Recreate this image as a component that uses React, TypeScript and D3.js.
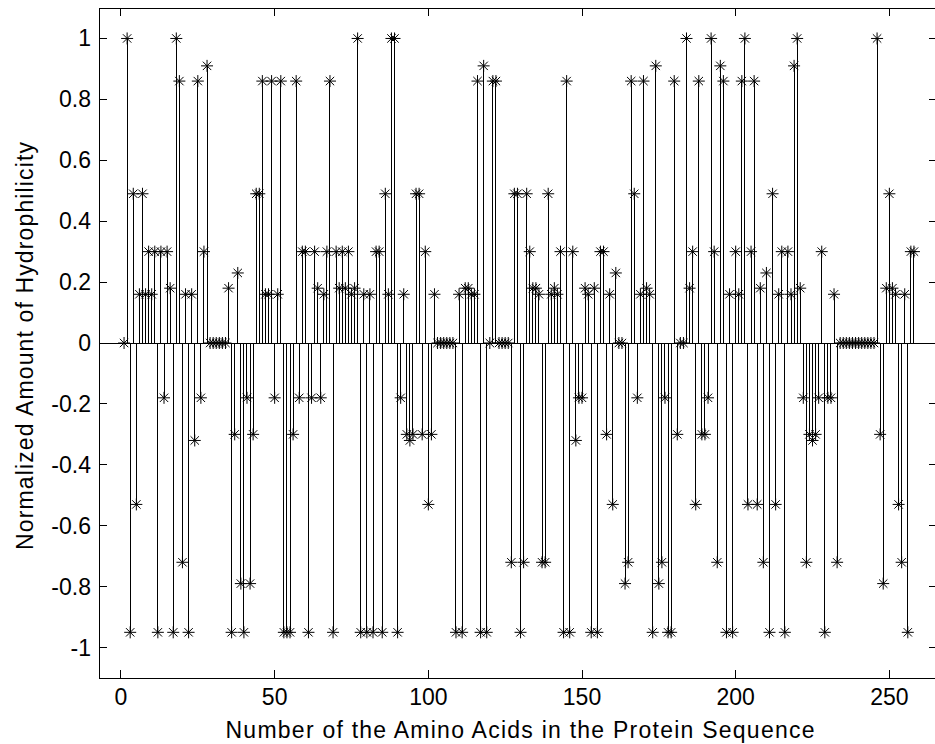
import React, { useEffect, useRef } from "react";
import * as d3 from "d3";

// normalized hydrophilicity of each residue, position = index + 1
const hydrophilicity = [
  0, 1, -0.95, 0.49, -0.53, 0.16, 0.49, 0.16, 0.3, 0.16,
  0.3, -0.95, 0.3, -0.18, 0.3, 0.18, -0.95, 1, 0.86, -0.72,
  0.16, -0.95, 0.16, -0.32, 0.86, -0.18, 0.3, 0.91, 0, 0,
  0, 0, 0, 0, 0.18, -0.95, -0.3, 0.23, -0.79, -0.95,
  -0.18, -0.79, -0.3, 0.49, 0.49, 0.86, 0.16, 0.16, 0.86, -0.18,
  0.16, 0.86, -0.95, -0.95, -0.95, -0.3, 0.86, -0.18, 0.3, 0.3,
  -0.95, -0.18, 0.3, 0.18, -0.18, 0.16, 0.3, 0.86, -0.95, 0.3,
  0.18, 0.3, 0.18, 0.3, 0.16, 0.18, 1, -0.95, 0.16, -0.95,
  0.16, -0.95, 0.3, 0.3, -0.95, 0.49, 0.16, 1, 1, -0.95,
  -0.18, 0.16, -0.3, -0.32, -0.3, 0.49, 0.49, -0.3, 0.3, -0.53,
  -0.3, 0.16, 0, 0, 0, 0, 0, 0, -0.95, 0.16,
  -0.95, 0.18, 0.18, 0.16, 0.16, 0.86, -0.95, 0.91, -0.95, 0,
  0.86, 0.86, 0, 0, 0, 0, -0.72, 0.49, 0.49, -0.95,
  -0.72, 0.49, 0.3, 0.18, 0.18, 0.16, -0.72, -0.72, 0.49, 0.16,
  0.18, 0.16, 0.3, -0.95, 0.86, -0.95, 0.3, -0.32, -0.18, -0.18,
  0.18, 0.16, -0.95, 0.18, -0.95, 0.3, 0.3, -0.3, 0.16, -0.53,
  0.23, 0, 0, -0.79, -0.72, 0.86, 0.49, -0.18, 0.16, 0.86,
  0.18, 0.16, -0.95, 0.91, -0.79, -0.72, -0.18, -0.95, -0.95, 0.86,
  -0.3, 0, 0, 1, 0.18, 0.3, -0.53, 0.86, -0.3, -0.3,
  -0.18, 1, 0.3, -0.72, 0.91, 0.86, -0.95, 0.16, -0.95, 0.3,
  0.16, 0.86, 1, -0.53, 0.3, 0.86, -0.53, 0.18, -0.72, 0.23,
  -0.95, 0.49, -0.53, 0.16, 0.3, -0.95, 0.3, 0.16, 0.91, 1,
  0.18, -0.18, -0.72, -0.3, -0.32, -0.3, -0.18, 0.3, -0.95, -0.18,
  -0.18, 0.16, -0.72, 0, 0, 0, 0, 0, 0, 0,
  0, 0, 0, 0, 0, 1, -0.3, -0.79, 0.18, 0.49,
  0.18, 0.16, -0.53, -0.72, 0.16, -0.95, 0.3, 0.3,
];

const xTicks = [0, 50, 100, 150, 200, 250];
const yTicks = [-1, -0.8, -0.6, -0.4, -0.2, 0, 0.2, 0.4, 0.6, 0.8, 1];
const xTitle = "Number of the Amino Acids in the Protein Sequence";
const yTitle = "Normalized Amount of Hydrophilicity";

export default function App() {
  const svgRef = useRef<SVGSVGElement>(null);

  useEffect(() => {
    const svg = d3.select(svgRef.current);
    svg.selectAll("*").remove();

    const left = 99, right = 937, top = 8, bottom = 678;
    const font = "'Liberation Sans', Arial, sans-serif";
    const fs = 23;

    const x = d3.scaleLinear().domain([-7.15, 265.5]).range([left, right]);
    const y = d3.scaleLinear().domain([-1.1, 1.1]).range([bottom, top]);

    svg.append("rect")
      .attr("width", 935).attr("height", 744).attr("fill", "white");

    // stems
    const plot = svg.append("g");
    plot.append("line")
      .attr("x1", left).attr("x2", right)
      .attr("y1", y(0)).attr("y2", y(0))
      .attr("stroke", "black").attr("shape-rendering", "crispEdges");

    plot.selectAll(".stem")
      .data(hydrophilicity)
      .join("line")
      .attr("class", "stem")
      .attr("x1", (d, i) => x(i + 1)).attr("x2", (d, i) => x(i + 1))
      .attr("y1", y(0)).attr("y2", d => y(d))
      .attr("stroke", "black")
      .attr("shape-rendering", "crispEdges");

    // asterisk markers (plus + cross)
    const r = 6, q = 4.2;
    const star = `M${-r},0H${r}M0,${-r}V${r}M${-q},${-q}L${q},${q}M${-q},${q}L${q},${-q}`;
    plot.selectAll(".mark")
      .data(hydrophilicity)
      .join("path")
      .attr("class", "mark")
      .attr("transform", (d, i) => `translate(${x(i + 1)},${y(d)})`)
      .attr("d", star)
      .attr("fill", "none")
      .attr("stroke", "black")
      .attr("stroke-width", 1);

    // box + inward ticks
    svg.append("rect")
      .attr("x", left).attr("y", top)
      .attr("width", right - left).attr("height", bottom - top)
      .attr("fill", "none").attr("stroke", "black")
      .attr("shape-rendering", "crispEdges");

    const tl = 8;
    const ax = svg.append("g").attr("stroke", "black").attr("shape-rendering", "crispEdges");
    xTicks.forEach(t => {
      ax.append("line").attr("x1", x(t)).attr("x2", x(t)).attr("y1", bottom).attr("y2", bottom - tl);
      ax.append("line").attr("x1", x(t)).attr("x2", x(t)).attr("y1", top).attr("y2", top + tl);
    });
    yTicks.forEach(t => {
      ax.append("line").attr("x1", left).attr("x2", left + tl).attr("y1", y(t)).attr("y2", y(t));
      ax.append("line").attr("x1", right).attr("x2", right - tl).attr("y1", y(t)).attr("y2", y(t));
    });

    const fmt = (v: number) => (Math.abs(v) < 1e-9 ? "0" : String(Math.round(v * 10) / 10));

    svg.append("g").selectAll("text")
      .data(xTicks)
      .join("text")
      .attr("x", d => x(d)).attr("y", 705)
      .attr("text-anchor", "middle")
      .attr("font-family", font).attr("font-size", fs)
      .text(d => fmt(d));

    svg.append("g").selectAll("text")
      .data(yTicks)
      .join("text")
      .attr("x", 91).attr("y", d => y(d) + 8)
      .attr("text-anchor", "end")
      .attr("font-family", font).attr("font-size", fs)
      .text(d => fmt(d));

    svg.append("text")
      .attr("x", 520).attr("y", 738)
      .attr("text-anchor", "middle")
      .attr("textLength", 589).attr("lengthAdjust", "spacing")
      .attr("font-family", font).attr("font-size", fs)
      .text(xTitle);

    svg.append("text")
      .attr("transform", "translate(33,346) rotate(-90)")
      .attr("text-anchor", "middle")
      .attr("textLength", 408).attr("lengthAdjust", "spacing")
      .attr("font-family", font).attr("font-size", fs)
      .text(yTitle);
  }, []);

  return (
    <svg ref={svgRef} width={935} height={744}
      style={{ position: "absolute", left: 0, top: 0, display: "block" }} />
  );
}
